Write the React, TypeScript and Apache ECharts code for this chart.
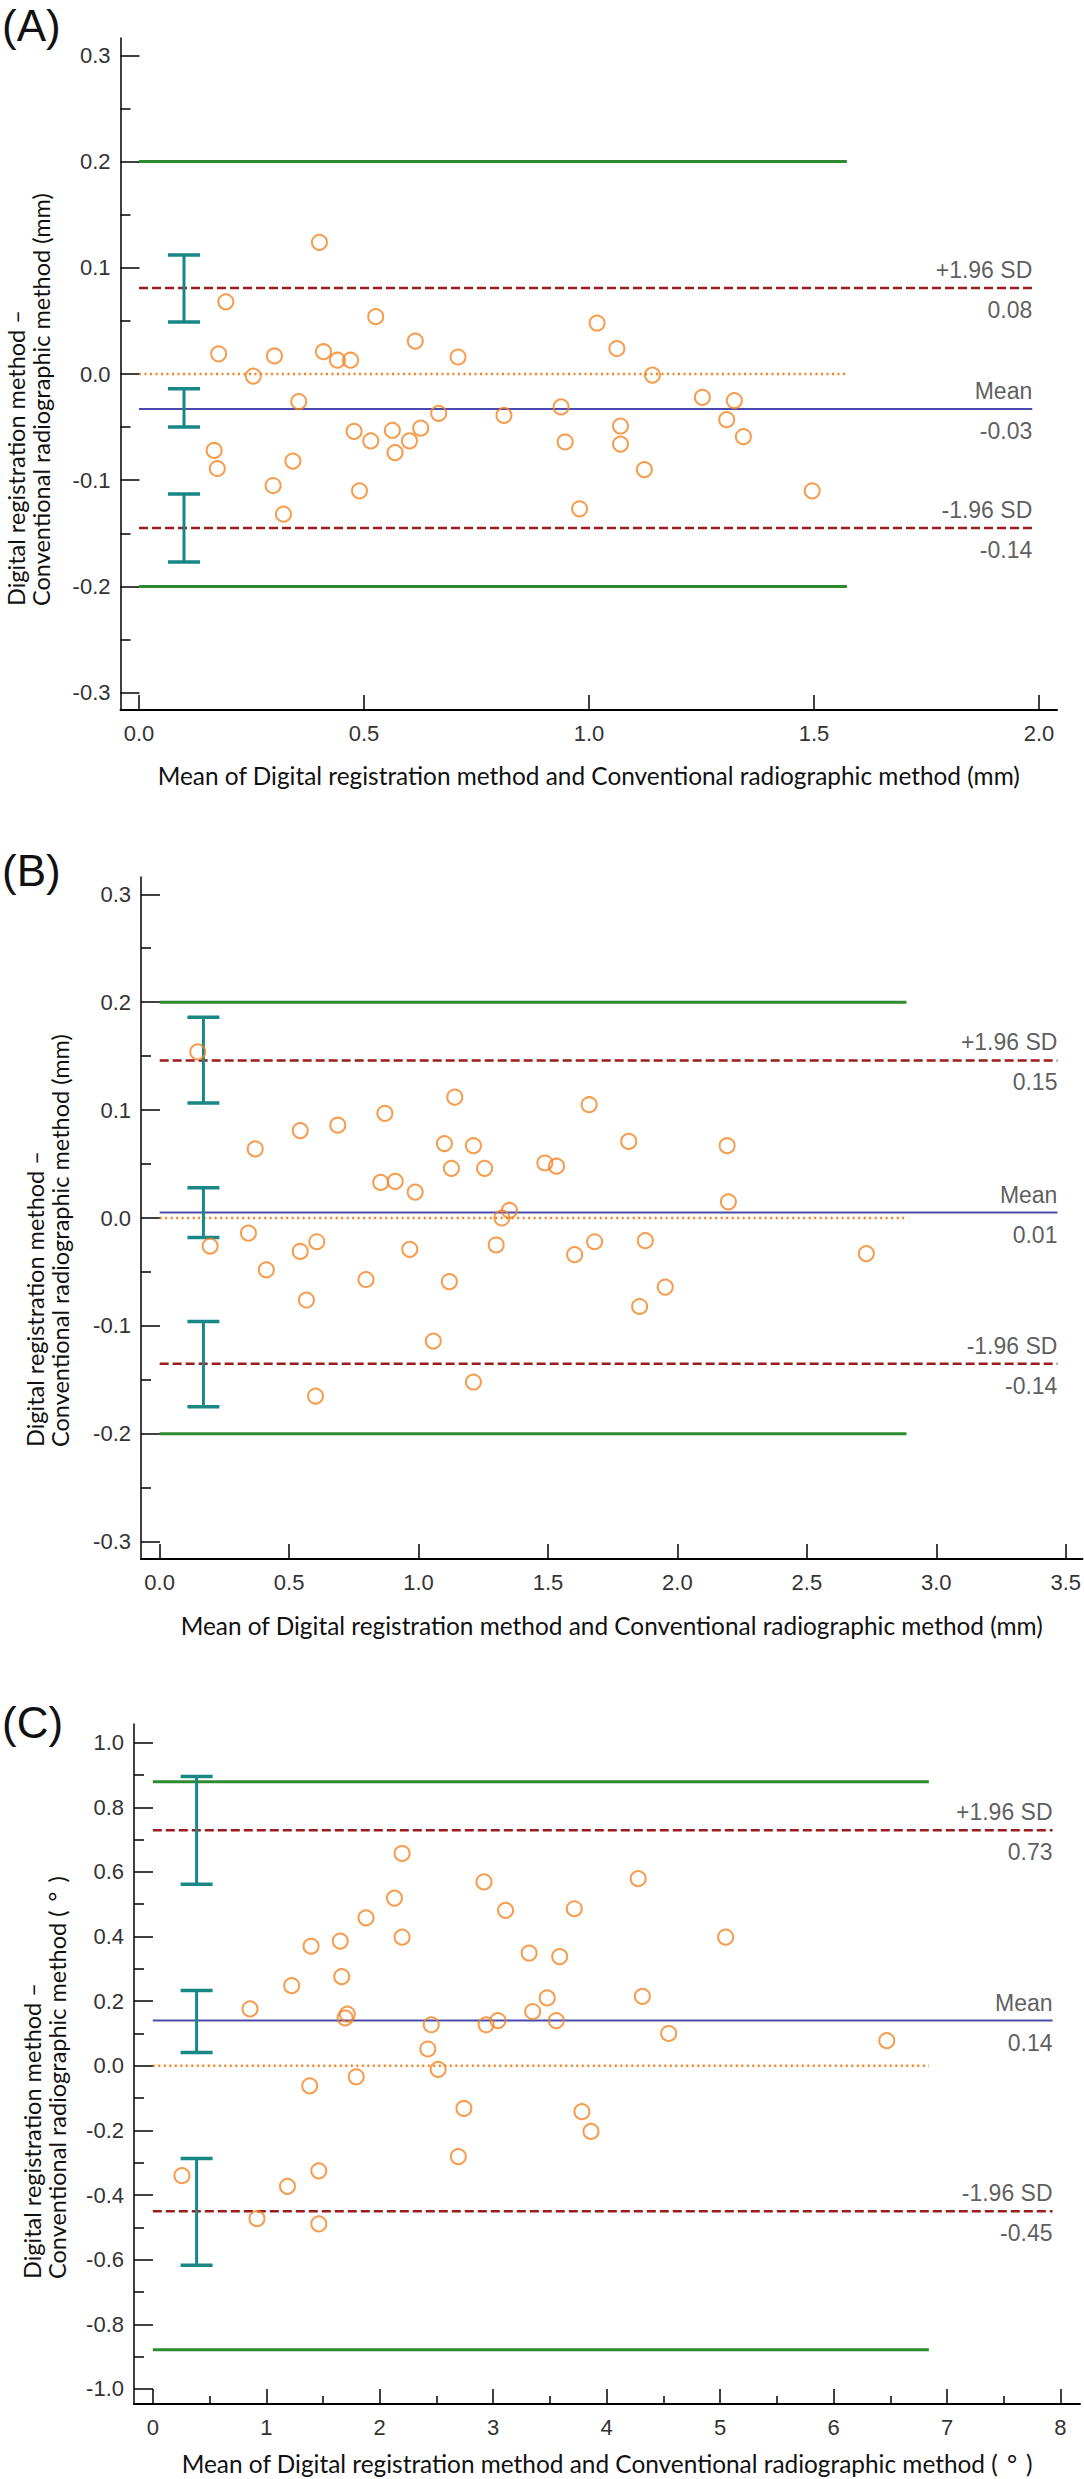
import React, { useEffect, useRef } from 'react';
import * as echarts from 'echarts';

// ---------- Panel A data ----------
const A_X = [0.401, 0.193, 0.526, 1.018, 0.614, 1.062, 0.177, 0.301, 0.41, 0.441, 0.47, 0.709, 0.254, 1.141, 0.355, 0.666, 0.811, 0.938, 1.252, 1.323, 1.306, 0.478, 0.515, 0.563, 0.601, 0.626, 0.569, 0.947, 1.07, 1.07, 1.343, 0.167, 0.174, 0.342, 0.298, 0.49, 0.321, 1.123, 0.979, 1.496];
const A_Y = [0.124, 0.068, 0.054, 0.048, 0.031, 0.024, 0.019, 0.017, 0.021, 0.013, 0.013, 0.016, -0.002, -0.001, -0.026, -0.037, -0.039, -0.031, -0.022, -0.025, -0.043, -0.054, -0.063, -0.053, -0.063, -0.051, -0.074, -0.064, -0.049, -0.066, -0.059, -0.072, -0.089, -0.082, -0.105, -0.11, -0.132, -0.09, -0.127, -0.11];
const A_STATS = [0.081, -0.033, -0.145]; // +1.96 SD, mean, -1.96 SD
const A_STAT_TEXT = ['0.08', '-0.03', '-0.14'];
const A_LIMITS = [0.2, -0.2];
const A_CI_X = 0.1;
const A_CI_LOW = [0.049, -0.05, -0.177];
const A_CI_HIGH = [0.112, -0.014, -0.113];
const A_X_TICKS = [0, 0.5, 1.0, 1.5, 2.0];
const A_Y_TICKS = [-0.3, -0.2, -0.1, 0, 0.1, 0.2, 0.3];
const A_Y_MINOR = [-0.25, -0.15, -0.05, 0.05, 0.15, 0.25];

// ---------- Panel B data ----------
const B_X = [0.147, 1.14, 1.659, 0.87, 0.688, 0.543, 0.369, 1.1, 1.212, 1.812, 2.192, 1.127, 1.255, 1.488, 1.533, 0.854, 0.91, 0.987, 2.197, 1.351, 1.322, 0.343, 0.195, 0.543, 0.607, 0.966, 1.3, 1.603, 1.68, 1.876, 2.73, 0.412, 0.797, 1.119, 0.567, 1.953, 1.854, 1.057, 1.212, 0.602];
const B_Y = [0.154, 0.112, 0.105, 0.097, 0.086, 0.081, 0.064, 0.069, 0.067, 0.071, 0.067, 0.046, 0.046, 0.051, 0.048, 0.033, 0.034, 0.024, 0.015, 0.007, 0.0, -0.014, -0.026, -0.031, -0.022, -0.029, -0.025, -0.034, -0.022, -0.021, -0.033, -0.048, -0.057, -0.059, -0.076, -0.064, -0.082, -0.114, -0.152, -0.165];
const B_STATS = [0.146, 0.005, -0.135];
const B_STAT_TEXT = ['0.15', '0.01', '-0.14'];
const B_LIMITS = [0.2, -0.2];
const B_CI_X = 0.169;
const B_CI_LOW = [0.1065, -0.018, -0.175];
const B_CI_HIGH = [0.186, 0.028, -0.096];
const B_X_TICKS = [0, 0.5, 1.0, 1.5, 2.0, 2.5, 3.0, 3.5];
const B_Y_TICKS = [-0.3, -0.2, -0.1, 0, 0.1, 0.2, 0.3];
const B_Y_MINOR = [-0.25, -0.15, -0.05, 0.05, 0.15, 0.25];

// ---------- Panel C data ----------
const C_X = [2.197, 2.919, 4.278, 2.13, 3.109, 3.715, 1.879, 2.197, 5.049, 1.395, 1.652, 3.317, 3.586, 1.665, 1.224, 3.476, 4.315, 0.857, 1.714, 1.695, 3.348, 3.042, 2.938, 3.556, 2.454, 4.547, 6.469, 2.424, 2.515, 1.793, 1.383, 2.742, 3.782, 3.862, 2.693, 0.257, 1.463, 1.187, 0.918, 1.463];
const C_Y = [0.657, 0.569, 0.579, 0.519, 0.481, 0.486, 0.458, 0.398, 0.398, 0.37, 0.386, 0.349, 0.338, 0.276, 0.248, 0.21, 0.215, 0.176, 0.16, 0.148, 0.168, 0.14, 0.127, 0.14, 0.127, 0.1, 0.078, 0.052, -0.011, -0.034, -0.062, -0.132, -0.142, -0.203, -0.281, -0.34, -0.325, -0.373, -0.473, -0.489];
const C_STATS = [0.729, 0.14, -0.45];
const C_STAT_TEXT = ['0.73', '0.14', '-0.45'];
const C_LIMITS = [0.879, -0.879];
const C_CI_X = 0.386;
const C_CI_LOW = [0.562, 0.041, -0.617];
const C_CI_HIGH = [0.895, 0.233, -0.287];
const C_X_TICKS = [0, 1, 2, 3, 4, 5, 6, 7, 8];
const C_X_MINOR = [0.5, 1.5, 2.5, 3.5, 4.5, 5.5, 6.5, 7.5];
const C_Y_TICKS = [-1.0, -0.8, -0.6, -0.4, -0.2, 0, 0.2, 0.4, 0.6, 0.8, 1.0];
const C_Y_MINOR = [-0.9, -0.7, -0.5, -0.3, -0.1, 0.1, 0.3, 0.5, 0.7, 0.9];

const STAT_NAMES = ['+1.96 SD', 'Mean', '-1.96 SD'];

const ORANGE = '#f5821f';
const GREEN = '#2e8a2e';
const RED = '#9b1c1c';
const BLUE = '#4a4aac';
const TEAL = '#1a8787';
const TICK_FONT = 'Liberation Sans';
const TITLE_FONT = 'Lato';
const XTITLE_SIZE = 24.4;
const YTITLE_SIZE = 23.5;

type PanelCfg = {
  letter: string;
  grid: { left: number; top: number; width: number; height: number };
  xMin: number; xMax: number; yMin: number; yMax: number;
  xs: number[]; ys: number[];
  stats: number[]; statText: string[]; limits: number[];
  ciX: number; ciLow: number[]; ciHigh: number[];
  xTicks: number[]; xMinor: number[] | null; yTicks: number[]; yMinor: number[];
  xFmt: (v: number) => string;
  shortEnd: number; longEnd: number;
  xName: string; nameGap: number;
  yTitleX: number; yTitleY: number; yTitle: string;
  letterY: number;
};

const panels: PanelCfg[] = [
  {
    letter: '(A)', letterY: 3,
    grid: { left: 120.5, top: 38, width: 936.5, height: 672 },
    xMin: -0.0411, xMax: 2.04, yMin: -0.3164, yMax: 0.3164,
    xs: A_X, ys: A_Y, stats: A_STATS, statText: A_STAT_TEXT, limits: A_LIMITS,
    ciX: A_CI_X, ciLow: A_CI_LOW, ciHigh: A_CI_HIGH,
    xTicks: A_X_TICKS, xMinor: null, yTicks: A_Y_TICKS, yMinor: A_Y_MINOR,
    xFmt: (v) => v.toFixed(1),
    shortEnd: 1.573, longEnd: 1.985,
    xName: 'Mean of Digital registration method and Conventional radiographic method (mm)', nameGap: 53,
    yTitleX: 3, yTitleY: 606,
    yTitle: 'Digital registration method \u2013\nConventional radiographic method (mm)',
  },
  {
    letter: '(B)', letterY: 848,
    grid: { left: 141, top: 877, width: 943, height: 682 },
    xMin: -0.0721, xMax: 3.5646, yMin: -0.316, yMax: 0.316,
    xs: B_X, ys: B_Y, stats: B_STATS, statText: B_STAT_TEXT, limits: B_LIMITS,
    ciX: B_CI_X, ciLow: B_CI_LOW, ciHigh: B_CI_HIGH,
    xTicks: B_X_TICKS, xMinor: null, yTicks: B_Y_TICKS, yMinor: B_Y_MINOR,
    xFmt: (v) => v.toFixed(1),
    shortEnd: 2.885, longEnd: 3.468,
    xName: 'Mean of Digital registration method and Conventional radiographic method (mm)', nameGap: 54,
    yTitleX: 22, yTitleY: 1447,
    yTitle: 'Digital registration method \u2013\nConventional radiographic method (mm)',
  },
  {
    letter: '(C)', letterY: 1700,
    grid: { left: 134, top: 1724, width: 946, height: 680 },
    xMin: -0.1657, xMax: 8.172, yMin: -1.0466, yMax: 1.0577,
    xs: C_X, ys: C_Y, stats: C_STATS, statText: C_STAT_TEXT, limits: C_LIMITS,
    ciX: C_CI_X, ciLow: C_CI_LOW, ciHigh: C_CI_HIGH,
    xTicks: C_X_TICKS, xMinor: C_X_MINOR, yTicks: C_Y_TICKS, yMinor: C_Y_MINOR,
    xFmt: (v) => String(Math.round(v)),
    shortEnd: 6.84, longEnd: 7.93,
    xName: 'Mean of Digital registration method and Conventional radiographic method ({deg|\u00b0})', nameGap: 47,
    yTitleX: 19, yTitleY: 2279,
    yTitle: 'Digital registration method \u2013\nConventional radiographic method ({ydeg|\u00b0})',
  },
];

const degRich = {
  deg: { fontFamily: TITLE_FONT, fontSize: XTITLE_SIZE, width: 28, align: 'center', color: '#111' },
  ydeg: { fontFamily: TITLE_FONT, fontSize: YTITLE_SIZE, width: 28, align: 'center', fill: '#111', color: '#111' },
};

function buildOption() {
  const grid: any[] = [];
  const xAxis: any[] = [];
  const yAxis: any[] = [];
  const series: any[] = [];
  const graphic: any[] = [];

  panels.forEach((p, i) => {
    grid.push({ ...p.grid, containLabel: false });
    const xi = xAxis.length;
    xAxis.push({
      type: 'value', gridIndex: i, min: p.xMin, max: p.xMax,
      axisLine: { onZero: false, lineStyle: { color: '#000', width: 2 } },
      axisTick: { inside: true, length: 15, customValues: p.xTicks, lineStyle: { color: '#000', width: 1.5 } },
      axisLabel: { customValues: p.xTicks, formatter: (v: number) => p.xFmt(v), margin: 12, fontFamily: TICK_FONT, fontSize: 22, color: '#333' },
      splitLine: { show: false },
      name: p.xName, nameLocation: 'middle', nameGap: p.nameGap,
      nameTextStyle: { fontFamily: TITLE_FONT, fontSize: XTITLE_SIZE, color: '#111', rich: degRich },
    });
    if (p.xMinor) {
      xAxis.push({
        type: 'value', gridIndex: i, min: p.xMin, max: p.xMax, position: 'bottom',
        axisLine: { show: false, onZero: false },
        axisTick: { inside: true, length: 8, customValues: p.xMinor, lineStyle: { color: '#000', width: 1.5 } },
        axisLabel: { show: false }, splitLine: { show: false },
      });
    }
    const yi = yAxis.length;
    yAxis.push({
      type: 'value', gridIndex: i, min: p.yMin, max: p.yMax, position: 'left',
      axisLine: { onZero: false, lineStyle: { color: '#000', width: 1.5 } },
      axisTick: { inside: true, length: 19, customValues: p.yTicks, lineStyle: { color: '#000', width: 1.5 } },
      axisLabel: { customValues: p.yTicks, formatter: (v: number) => v.toFixed(1), margin: 10, fontFamily: TICK_FONT, fontSize: 22, color: '#333' },
      splitLine: { show: false },
    });
    yAxis.push({
      type: 'value', gridIndex: i, min: p.yMin, max: p.yMax, position: 'left',
      axisLine: { show: false, onZero: false },
      axisTick: { inside: true, length: 10, customValues: p.yMinor, lineStyle: { color: '#000', width: 1.5 } },
      axisLabel: { show: false }, splitLine: { show: false },
    });

    const hline = (y: number, x1: number, color: string, width: number, type: any) => ({
      type: 'line', xAxisIndex: xi, yAxisIndex: yi, silent: true, symbol: 'none', animation: false,
      data: [[0, y], [x1, y]], lineStyle: { color, width, type, cap: 'butt' }, z: 2,
    });
    p.limits.forEach((lv) => series.push(hline(lv, p.shortEnd, GREEN, 3, 'solid')));
    series.push(hline(0, p.shortEnd, ORANGE, 2.5, [2, 3.5]));
    series.push(hline(p.stats[0], p.longEnd, RED, 2.5, [9, 4]));
    series.push(hline(p.stats[1], p.longEnd, BLUE, 2, 'solid'));
    series.push(hline(p.stats[2], p.longEnd, RED, 2.5, [9, 4]));

    series.push({
      type: 'custom', xAxisIndex: xi, yAxisIndex: yi, silent: true, z: 3,
      data: p.ciLow.map((lo, k) => [p.ciX, lo, p.ciHigh[k]]),
      encode: { x: 0, y: [1, 2] },
      renderItem: (params: any, api: any) => {
        const top = api.coord([api.value(0), api.value(2)]);
        const bot = api.coord([api.value(0), api.value(1)]);
        const hw = 16;
        return {
          type: 'group',
          children: [
            { type: 'line', shape: { x1: top[0], y1: top[1], x2: bot[0], y2: bot[1] }, style: { stroke: TEAL, lineWidth: 3 } },
            { type: 'line', shape: { x1: top[0] - hw, y1: top[1], x2: top[0] + hw, y2: top[1] }, style: { stroke: TEAL, lineWidth: 3.5 } },
            { type: 'line', shape: { x1: bot[0] - hw, y1: bot[1], x2: bot[0] + hw, y2: bot[1] }, style: { stroke: TEAL, lineWidth: 3.5 } },
          ],
        };
      },
    });

    series.push({
      type: 'scatter', xAxisIndex: xi, yAxisIndex: yi, silent: true, z: 4,
      symbol: 'circle', symbolSize: 15,
      itemStyle: { color: 'rgba(255,255,255,0)', borderColor: ORANGE, borderWidth: 2 },
      data: p.xs.map((x, k) => [x, p.ys[k]]),
    });

    const lblBase = { show: true, align: 'right', fontFamily: TICK_FONT, fontSize: 23, color: '#333' };
    const lblData: any[] = [];
    p.stats.forEach((s, k) => {
      lblData.push({ value: [p.longEnd, s], label: { ...lblBase, position: 'top', distance: 6, formatter: STAT_NAMES[k] } });
      lblData.push({ value: [p.longEnd, s], label: { ...lblBase, position: 'bottom', distance: 10, formatter: p.statText[k] } });
    });
    series.push({
      type: 'scatter', xAxisIndex: xi, yAxisIndex: yi, silent: true, z: 5,
      symbol: 'rect', symbolSize: 1, itemStyle: { color: 'rgba(0,0,0,0)' }, data: lblData,
    });

    graphic.push({
      type: 'text', x: 2, y: p.letterY,
      style: { text: p.letter, fontFamily: TICK_FONT, fontSize: 44, fill: '#111', align: 'left', verticalAlign: 'top' },
    });
    graphic.push({
      type: 'text', x: p.yTitleX, y: p.yTitleY, rotation: Math.PI / 2,
      style: {
        text: p.yTitle, fontFamily: TITLE_FONT, fontSize: YTITLE_SIZE, lineHeight: 25, fill: '#111',
        align: 'left', verticalAlign: 'top', rich: degRich,
      },
    });
  });

  return {
    animation: false,
    backgroundColor: '#ffffff',
    textStyle: { fontFamily: TICK_FONT },
    grid, xAxis, yAxis, series, graphic,
  };
}

export default function App() {
  const ref = useRef<HTMLDivElement>(null);
  useEffect(() => {
    if (!ref.current) return;
    const chart = echarts.init(ref.current, null, { renderer: 'svg', width: 1084, height: 2479 });
    chart.setOption(buildOption() as any);
    return () => chart.dispose();
  }, []);
  return (
    <div
      ref={ref}
      style={{ position: 'absolute', left: 0, top: 0, width: 1084, height: 2479, background: '#fff' }}
    />
  );
}
